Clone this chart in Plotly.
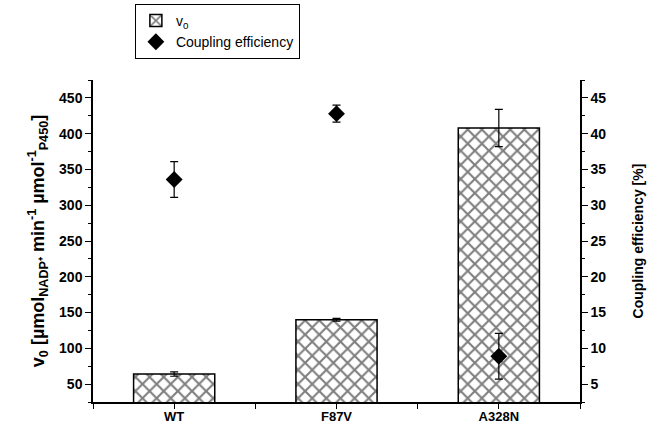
import plotly.graph_objects as go

categories = ["WT", "F87V", "A328N"]
v0_values = [64, 140, 408]
v0_errors = [3, 2, 26]
coupling_values = [33.6, 42.8, 8.9]
coupling_errors = [2.5, 1.2, 3.2]
left_ticks = [50, 100, 150, 200, 250, 300, 350, 400, 450]
right_ticks = [5, 10, 15, 20, 25, 30, 35, 40, 45]

xpos = list(range(len(categories)))
FONT = "Liberation Sans, Arial, sans-serif"

fig = go.Figure()
fig.add_trace(go.Bar(
    x=xpos, y=v0_values, width=0.5, name="v<sub>0</sub>",
    marker=dict(color="white", line=dict(color="black", width=1.5),
                pattern=dict(shape="x", fgcolor="black", bgcolor="white", size=10, solidity=0.38)),
    error_y=dict(type="data", array=v0_errors, color="black", thickness=1.2, width=4),
    yaxis="y",
))
fig.add_trace(go.Scatter(
    x=xpos, y=coupling_values, mode="markers", name="Coupling efficiency",
    marker=dict(symbol="diamond", size=13, color="black"),
    error_y=dict(type="data", array=coupling_errors, color="black", thickness=1.2, width=4),
    yaxis="y2",
))

tickfont = dict(family=FONT, size=14, color="black", weight="bold")
fig.update_layout(
    width=651, height=424,
    margin=dict(l=93, r=71, t=80, b=22, autoexpand=False),
    plot_bgcolor="white", paper_bgcolor="white",
    showlegend=True,
    legend=dict(x=0.086, y=1.236, xanchor="left", yanchor="top",
                bordercolor="black", borderwidth=1, bgcolor="white",
                font=dict(family=FONT, size=14, color="black"),
                tracegroupgap=0, itemwidth=30),
    xaxis=dict(range=[-0.5, 2.5], tickvals=xpos, ticktext=categories, automargin=False,
               showline=True, linecolor="black", linewidth=1.5, showgrid=False, zeroline=False,
               ticks="outside", ticklen=5, tickcolor="black", tickwidth=1.2,
               minor=dict(dtick=0.5, tick0=-0.5, ticks="outside", ticklen=5, tickcolor="black", tickwidth=1.2),
               tickfont=dict(family=FONT, size=13, color="black", weight="bold"),
               ticklabelstandoff=-3),
    yaxis=dict(range=[25, 475], tickvals=left_ticks, automargin=False,
               showline=True, linecolor="black", linewidth=1.5, showgrid=False, zeroline=False,
               ticks="outside", ticklen=6, tickcolor="black", tickwidth=1.2,
               minor=dict(dtick=25, tick0=25, ticks="outside", ticklen=3, tickcolor="black", tickwidth=1.2),
               tickfont=tickfont,
               title=dict(text="v<sub>0</sub> [µmol<sub>NADP⁺</sub> min<sup>-1</sup> µmol<sup>-1</sup><sub>P450</sub>]",
                          font=dict(family=FONT, size=18, color="black", weight="bold"), standoff=10)),
    yaxis2=dict(range=[2.5, 47.5], tickvals=right_ticks, overlaying="y", side="right", automargin=False,
                showline=True, linecolor="black", linewidth=1.5, showgrid=False, zeroline=False,
                ticks="outside", ticklen=6, tickcolor="black", tickwidth=1.2,
                minor=dict(dtick=2.5, tick0=2.5, ticks="outside", ticklen=3, tickcolor="black", tickwidth=1.2),
                tickfont=tickfont,
                title=dict(text="Coupling efficiency [%]",
                           font=dict(family=FONT, size=14, color="black", weight="bold"), standoff=28)),
)

fig.write_html("out.html", config={"displayModeBar": False},
               post_script="document.body.style.margin='0';")
